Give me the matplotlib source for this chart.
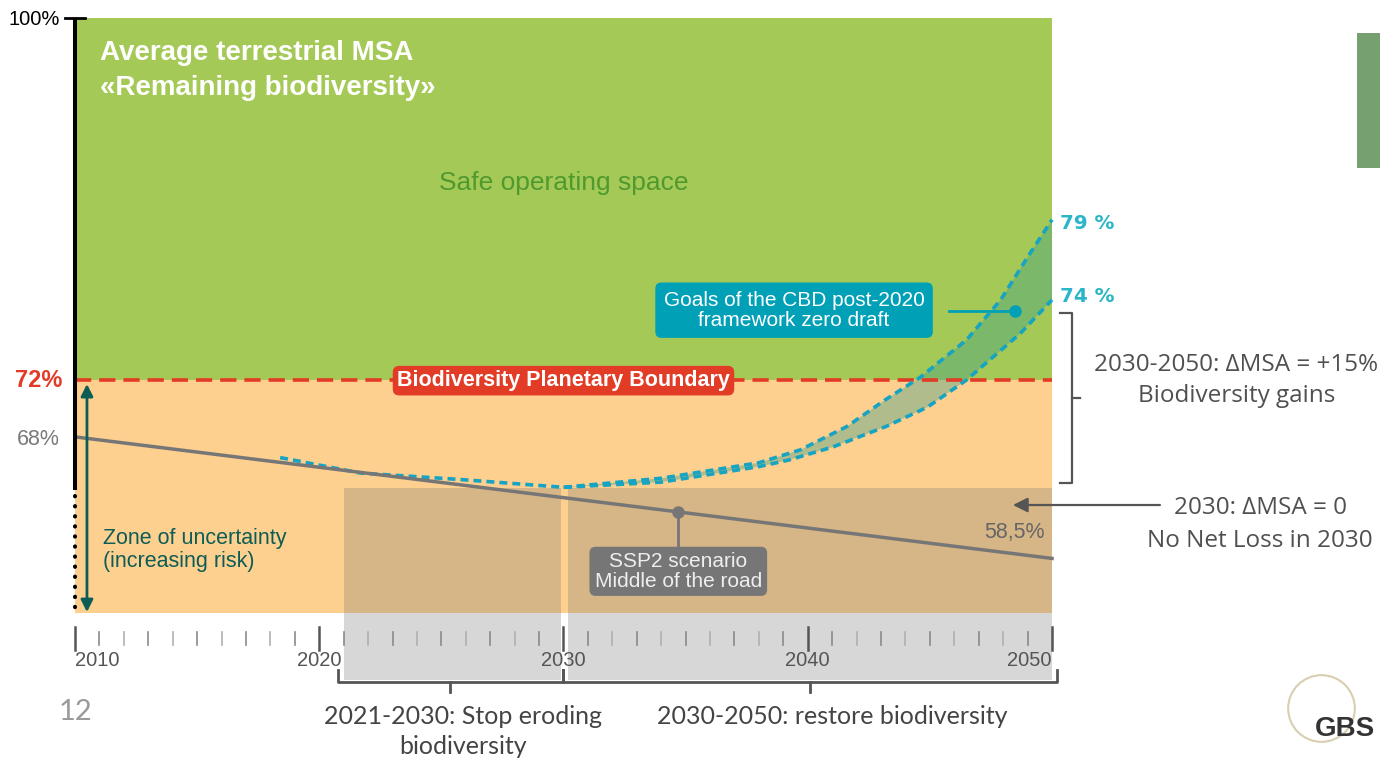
import matplotlib
matplotlib.use("Agg")
import matplotlib.pyplot as plt
from matplotlib.patches import Rectangle

# --- data ---
years_major = [2010, 2020, 2030, 2040, 2050]
years_minor = list(range(2010, 2051))

boundary = 72          # biodiversity planetary boundary (%)
top_value = 100
zone_bottom = 54       # bottom of the orange band

ssp2_years = [2010, 2050]
ssp2_values = [67.6, 58.2]

lower_years = [2018.4, 2021.7, 2025.8, 2030, 2034, 2038, 2039.2, 2041, 2043.2, 2044.9, 2046.5, 2048.7, 2050]
lower_values = [66.0, 64.8, 64.3, 63.7, 64.1, 65.3, 65.8, 66.8, 68.4, 69.9, 72.0, 75.6, 78.2]
upper_years = [2030, 2034, 2038, 2039.7, 2041.6, 2043.2, 2044.6, 2046.5, 2047.9, 2049, 2050]
upper_values = [63.7, 64.4, 65.6, 66.6, 68.4, 70.5, 72.2, 75.1, 78.2, 81.5, 84.4]

periods = [(2021, 2029.9), (2030.2, 2050)]
period_top = 63.65
period_bottom = 48.8

# colours
GREEN = "#a5c956"
ORANGE = "#fdd08f"
RED = "#e23b26"
TEAL = "#17a3c2"
DARKTEAL = "#0d5c55"
GREY = "#767676"
TXT = "#505050"

fig = plt.figure(figsize=(13.8, 7.62), dpi=100)
ax = fig.add_axes([0, 0, 1, 1])
ax.set_xlim(2006.9294, 2063.4289)
ax.set_ylim(42.453, 101.392)
ax.axis("off")

# background bands
ax.add_patch(Rectangle((2010, boundary), 40, top_value - boundary, color=GREEN, lw=0, zorder=0))
ax.add_patch(Rectangle((2010, zone_bottom), 40, boundary - zone_bottom, color=ORANGE, lw=0, zorder=0))

# grey period shading
for x0, x1 in periods:
    ax.add_patch(Rectangle((x0, period_bottom), x1 - x0, period_top - period_bottom,
                           color="#727272", alpha=0.28, lw=0, zorder=1))

# vertical axis
ax.plot([2010, 2010], [top_value, 63.5], color="black", lw=2.9, solid_capstyle="butt", zorder=5)
ax.plot([2010, 2010], [63.0, zone_bottom], color="black", lw=2.9,
        linestyle=(0, (0.1, 2.4)), dash_capstyle="round", zorder=5)
ax.plot([2009.59, 2010.41], [top_value, top_value], color="black", lw=2, zorder=5)

# boundary line
ax.plot([2010, 2050], [boundary, boundary], color=RED, lw=2.6, linestyle=(0, (4.5, 2.2)), zorder=3)

# filled goal band (between the two curves, from 2030 on)
start = lower_years.index(2030)
band_lower_x = lower_years[start:]
band_lower_y = lower_values[start:]
poly_x = upper_years + band_lower_x[::-1]
poly_y = upper_values + band_lower_y[::-1]
ax.fill(poly_x, poly_y, color="#3f9f88", alpha=0.4, lw=0, zorder=2)
ax.plot(lower_years, lower_values, color=TEAL, lw=2.6, linestyle=(0, (2.2, 1.4)), zorder=4)
ax.plot(upper_years, upper_values, color=TEAL, lw=2.6, linestyle=(0, (2.2, 1.4)), zorder=4)

# SSP2 line
ax.plot(ssp2_years, ssp2_values, color=GREY, lw=2.5, zorder=4)

# x ticks
for y in years_minor:
    if y in years_major:
        ax.plot([y, y], [52.89, 51.12], color="#555555", lw=1.8, zorder=5)
    else:
        c = "#8a8a8a" if y % 2 else "#b0b0b0"
        ax.plot([y, y], [52.51, 51.50], color=c, lw=1.2, zorder=5)
for y in years_major:
    ha = "left" if y == 2010 else ("right" if y == 2050 else "center")
    ax.text(y, 50.27, str(y), ha=ha, va="center", fontsize=14.5, color="#555555",
            family="Liberation Sans", zorder=6)

# chart text
ax.text(2011.02, 97.3, "Average terrestrial MSA", color="white", fontsize=20,
        fontweight="bold", family="Liberation Sans", va="center")
ax.text(2011.02, 94.55, "\u00abRemaining biodiversity\u00bb", color="white", fontsize=20,
        fontweight="bold", family="Liberation Sans", va="center")
ax.text(2030, 87.24, "Safe operating space", color="#4f9a2f", fontsize=19,
        family="Liberation Sans", ha="center", va="center")
ax.text(2030, 71.95, "Biodiversity Planetary Boundary", color="white", fontsize=15.5,
        fontweight="bold", family="Liberation Sans", ha="center", va="center", zorder=6,
        bbox=dict(boxstyle="round,pad=0.2,rounding_size=0.3", fc=RED, ec="none"))

ax.text(2009.47, 71.95, "72%", color=RED, fontsize=17, fontweight="bold",
        family="Liberation Sans", ha="right", va="center")
ax.text(2009.39, 67.36, "68%", color="#7a7a7a", fontsize=15.5,
        family="Liberation Sans", ha="right", va="center")
ax.text(2009.39, 99.85, "100%", color="black", fontsize=14.5,
        family="Liberation Sans", ha="right", va="center")

# zone of uncertainty
ax.annotate("", xy=(2010.49, 54.05), xytext=(2010.49, 71.69),
            arrowprops=dict(arrowstyle="<|-|>", color=DARKTEAL, lw=2, mutation_scale=18,
                            shrinkA=0, shrinkB=0), zorder=6)
ax.text(2011.15, 58.85, "Zone of uncertainty\n(increasing risk)", color=DARKTEAL,
        fontsize=15.5, family="Liberation Sans", va="center", linespacing=1.15)

# SSP2 callout
m_year = 2034.7
m_val = ssp2_values[0] + (ssp2_values[1] - ssp2_values[0]) * (m_year - ssp2_years[0]) / (ssp2_years[1] - ssp2_years[0])
ax.plot([m_year, m_year], [m_val, 59.1], color=GREY, lw=2, zorder=5)
ax.plot([m_year], [m_val], "o", color=GREY, ms=8, zorder=6)
ax.text(m_year, 57.2, "SSP2 scenario\nMiddle of the road", color="#eeeeee", fontsize=15,
        family="Liberation Sans", ha="center", va="center", linespacing=1.05, zorder=6,
        bbox=dict(boxstyle="round,pad=0.25,rounding_size=0.3", fc=GREY, ec="none"))
ax.text(2049.71, 60.17, "58,5%", color="#666666", fontsize=15.5,
        family="Liberation Sans", ha="right", va="center")

# CBD callout
ax.plot([2045.8, 2048.5], [77.34, 77.34], color="#00a0b6", lw=2, zorder=5)
ax.plot([2048.5], [77.34], "o", color="#00a0b6", ms=8, zorder=6)
ax.text(2039.44, 77.4, "Goals of the CBD post-2020\nframework zero draft", color="white",
        fontsize=15, family="Liberation Sans", ha="center", va="center", linespacing=1.05,
        zorder=6, bbox=dict(boxstyle="round,pad=0.4,rounding_size=0.3", fc="#00a0b6", ec="none"))

ax.text(2050.33, 84.14, "79 %", color="#2bb5c9", fontsize=14.3, fontweight="bold",
        family="DejaVu Sans", va="center")
ax.text(2050.33, 78.42, "74 %", color="#2bb5c9", fontsize=14.3, fontweight="bold",
        family="DejaVu Sans", va="center")

# right-side annotations
ax.plot([2050.33, 2050.82, 2050.82, 2050.33], [77.18, 77.18, 64.03, 64.03], color="#555555", lw=1.6)
ax.plot([2050.82, 2051.15], [70.61, 70.61], color="#555555", lw=1.6)
ax.text(2057.55, 73.16, "2030-2050: \u0394MSA = +15%", color=TXT, fontsize=17.5,
        family="Open Sans", ha="center", va="center")
ax.text(2057.55, 70.76, "Biodiversity gains", color=TXT, fontsize=17.5,
        family="Open Sans", ha="center", va="center")
ax.annotate("", xy=(2048.4, 62.33), xytext=(2054.42, 62.33),
            arrowprops=dict(arrowstyle="-|>", color="#555555", lw=1.6, mutation_scale=22,
                            shrinkA=0, shrinkB=0))
ax.text(2058.52, 62.1, "2030: \u0394MSA = 0", color=TXT, fontsize=17.5,
        family="Open Sans", ha="center", va="center")
ax.text(2058.52, 59.55, "No Net Loss in 2030", color=TXT, fontsize=17.5,
        family="Open Sans", ha="center", va="center")

# bottom brackets
for x0, x1, xc in [(2020.77, 2030, 2025.35), (2030, 2050.2, 2040.09)]:
    ax.plot([x0, x0, x1, x1], [49.57, 48.64, 48.64, 49.57], color="#555555", lw=2)
    ax.plot([xc, xc], [48.64, 47.87], color="#555555", lw=2)
ax.text(2025.89, 46.01, "2021-2030: Stop eroding", color="#444444", fontsize=18,
        family="Lato", ha="center", va="center")
ax.text(2025.89, 43.69, "biodiversity", color="#444444", fontsize=18,
        family="Lato", ha="center", va="center")
ax.text(2041.0, 46.01, "2030-2050: restore biodiversity", color="#444444", fontsize=18,
        family="Lato", ha="center", va="center")

# slide decorations
ax.text(2010.04, 46.32, "12", color="#9a9a9a", fontsize=21, family="Lato",
        ha="center", va="center")
ax.add_patch(Rectangle((2062.49, 88.4), 1.0, 10.44, color="#76a070", lw=0))
ax.plot([2061.0], [46.6], "o", ms=48, mfc="none", mec="#d8cfb0", mew=1.5)
ax.text(2062.0, 45.0, "GBS", color="#333333", fontsize=20, fontweight="bold",
        family="Liberation Sans", ha="center", va="center")

fig.savefig("out.png", dpi=100)
